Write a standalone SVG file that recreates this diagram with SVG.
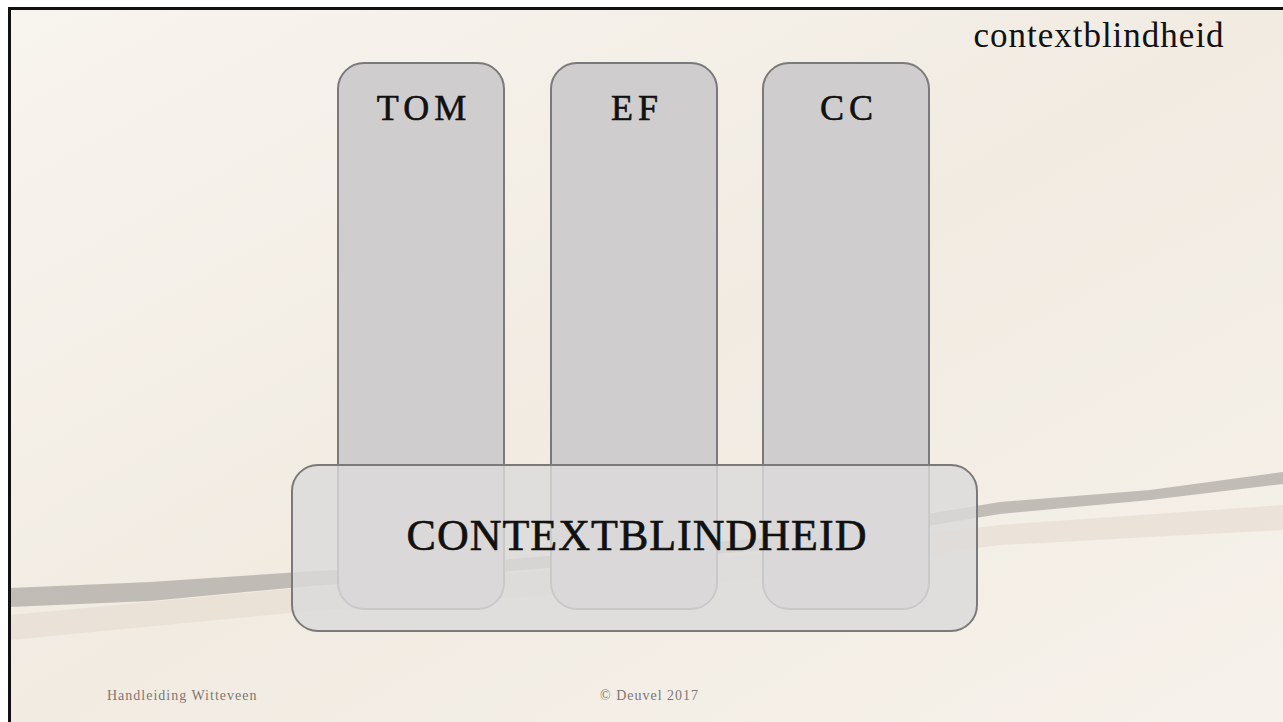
<svg xmlns="http://www.w3.org/2000/svg" width="1283" height="722" viewBox="0 0 1283 722">
<style>
.col{fill:#cfcdce;stroke:#7b7979;stroke-width:2}
.base{fill:#dcdadb;fill-opacity:0.82;stroke:#7b7979;stroke-width:2}
.lbl{font-family:"Liberation Serif",serif;fill:#111;stroke:#111;stroke-width:0.6;text-anchor:middle}
.foot{font-family:"Liberation Serif",serif;fill:#7d7873;font-size:14px;letter-spacing:1px}
</style>
<defs>
<linearGradient id="bg" x1="0" y1="0" x2="1" y2="1">
<stop offset="0" stop-color="#f8f4ee"/>
<stop offset="0.5" stop-color="#f1ebe2"/>
<stop offset="1" stop-color="#f6f1ea"/>
</linearGradient>
</defs>
<rect width="1283" height="722" fill="#ffffff"/>
<g id="background">
<rect x="10" y="9" width="1273" height="713" fill="url(#bg)"/>
<path d="M10 615 L300 588 L700 560 L1000 525 L1283 505 L1283 530 L1000 545 L700 585 L300 612 L10 640 Z" fill="#e7ded3" opacity="0.7"/>
<path d="M10 588 L150 582 L300 572 L500 560 L800 535 L1000 502 L1150 490 L1283 472 L1283 484 L1150 500 L1000 514 L800 547 L500 572 L300 587 L150 601 L10 607 Z" fill="#b8b3ae" opacity="0.85"/>
<rect x="9.5" y="8.5" width="1280" height="720" fill="none" stroke="#111" stroke-width="3"/>
</g>
<g id="node-tom">
<rect class="col" x="338" y="63" width="166" height="546" rx="26"/>
<text class="lbl" x="424" y="120" font-size="36" letter-spacing="5">TOM</text>
</g>
<g id="node-ef">
<rect class="col" x="551" y="63" width="166" height="546" rx="26"/>
<text class="lbl" x="637" y="120" font-size="36" letter-spacing="5">EF</text>
</g>
<g id="node-cc">
<rect class="col" x="763" y="63" width="166" height="546" rx="26"/>
<text class="lbl" x="849" y="120" font-size="36" letter-spacing="5">CC</text>
</g>
<g id="node-contextblindheid">
<rect class="base" x="292" y="465" width="685" height="166" rx="26"/>
<text class="lbl" x="637" y="550" font-size="44" letter-spacing="1">CONTEXTBLINDHEID</text>
</g>
<g id="connectors"></g>
<text x="1099" y="47" font-family="Liberation Serif,serif" font-size="35" fill="#111" text-anchor="middle" letter-spacing="1">contextblindheid</text>
<text class="foot" x="107" y="700">Handleiding Witteveen</text>
<text class="foot" x="600" y="700">© Deuvel 2017</text>
</svg>
